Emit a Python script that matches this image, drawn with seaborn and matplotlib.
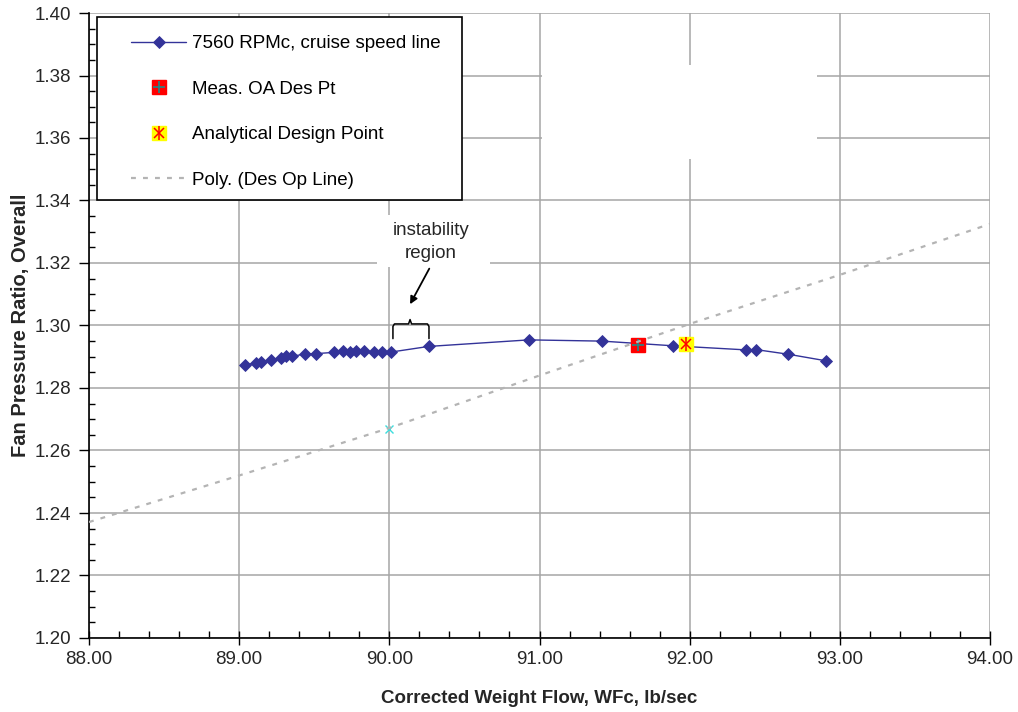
import matplotlib
matplotlib.use("Agg")
import numpy as np
import pandas as pd
import matplotlib.pyplot as plt
import seaborn as sns
from matplotlib.patches import Rectangle
from matplotlib.lines import Line2D
from matplotlib.ticker import MultipleLocator, FormatStrFormatter

# 7560 RPMc cruise speed line
speed_wfc = [89.042, 89.112, 89.145, 89.215, 89.279, 89.315, 89.352, 89.438,
             89.512, 89.631, 89.691, 89.738, 89.781, 89.831, 89.895, 89.951,
             90.011, 90.261, 90.930, 91.418, 91.891, 92.373, 92.440, 92.657,
             92.908]
speed_fpr = [1.2874, 1.2880, 1.2883, 1.2891, 1.2896, 1.2902, 1.2901, 1.2909,
             1.2910, 1.2914, 1.2917, 1.2915, 1.2917, 1.2917, 1.2915, 1.2915,
             1.2915, 1.2933, 1.2954, 1.2950, 1.2935, 1.2922, 1.2923, 1.2908,
             1.2887]

# measured operating-line design point
meas_wfc = [91.658]
meas_fpr = [1.2938]

# analytical design point
design_wfc = [91.973]
design_fpr = [1.2940]

# design operating line point and its polynomial trend
opline_wfc = [90.00]
opline_fpr = [1.2670]
trend_wfc = [88.0, 89.0, 90.0, 91.0, 92.0, 93.0, 94.0]
trend_fpr = [1.2371, 1.2520, 1.2672, 1.2840, 1.3005, 1.3162, 1.3325]

x_ticks = [88.0, 89.0, 90.0, 91.0, 92.0, 93.0, 94.0]
y_ticks = [1.20, 1.22, 1.24, 1.26, 1.28, 1.30, 1.32, 1.34, 1.36, 1.38, 1.40]

NAVY = "#333399"
GRID = "#a6a6a6"

sns.set_theme(style="white")
plt.rcParams["font.family"] = ["Liberation Sans", "DejaVu Sans"]

W, H = 1018, 712
fig = plt.figure(figsize=(W / 100, H / 100), dpi=100)
fig.patch.set_facecolor("white")
ax = fig.add_axes([89 / W, 1 - 638 / H, (990 - 89) / W, (638 - 13) / H])
ax.set_facecolor("white")

speed = pd.DataFrame({"wfc": speed_wfc, "fpr": speed_fpr})
sns.lineplot(data=speed, x="wfc", y="fpr", ax=ax, sort=False, estimator=None,
             color=NAVY, linewidth=1.0, marker="D", markersize=6.3,
             markeredgecolor=NAVY, markeredgewidth=0.6, zorder=3)

# measured design point: red square with teal cross
ax.plot(meas_wfc, meas_fpr, ls="none", marker="s", ms=10.5, mfc="#ff0000",
        mec="#ff0000", zorder=4)
ax.plot(meas_wfc, meas_fpr, ls="none", marker="+", ms=9, mew=1.2,
        color="#1f8a8a", zorder=4.1)

# analytical design point: yellow square with red asterisk
ax.plot(design_wfc, design_fpr, ls="none", marker="s", ms=10.5, mfc="#ffff00",
        mec="#ffff00", zorder=4)
ax.plot(design_wfc, design_fpr, ls="none", marker="x", ms=7.5, mew=1.1,
        color="#ff0000", zorder=4.1)
ax.plot(design_wfc, design_fpr, ls="none", marker="|", ms=9.5, mew=1.1,
        color="#ff0000", zorder=4.1)

# design op line point and trend
ax.plot(opline_wfc, opline_fpr, ls="none", marker="x", ms=5.5, mew=1.0,
        color="#3cdede", zorder=4)
ax.plot(trend_wfc, trend_fpr, color="#b4b4b4", lw=1.6,
        ls=(0, (2.2, 3.2)), zorder=4.5)

# axes, ticks, grid
ax.set_xlim(88, 94)
ax.set_ylim(1.20, 1.40)
ax.set_xticks(x_ticks)
ax.set_yticks(y_ticks)
ax.xaxis.set_minor_locator(MultipleLocator(0.2))
ax.yaxis.set_minor_locator(MultipleLocator(0.005))
ax.xaxis.set_major_formatter(FormatStrFormatter("%.2f"))
ax.yaxis.set_major_formatter(FormatStrFormatter("%.2f"))
ax.grid(True, which="major", color=GRID, linewidth=1.1)
ax.set_axisbelow(True)
for side in ("top", "right"):
    ax.spines[side].set_visible(False)
for side in ("left", "bottom"):
    ax.spines[side].set_color("black")
    ax.spines[side].set_linewidth(1.2)
ax.tick_params(axis="x", which="major", direction="inout", length=10,
               width=1.0, color="black", labelsize=13.5, pad=4, bottom=True)
ax.tick_params(axis="x", which="minor", direction="in", length=5,
               width=1.0, color="black", bottom=True)
ax.tick_params(axis="y", which="major", direction="out", length=7,
               width=1.0, color="black", labelsize=13.5, pad=6, left=True)
ax.tick_params(axis="y", which="minor", direction="in", length=4,
               width=1.0, color="black", left=True)

ax.set_xlabel("Corrected Weight Flow, WFc, lb/sec", fontsize=13.5,
              fontweight="bold", labelpad=16)
ax.set_ylabel("Fan Pressure Ratio, Overall", fontsize=14.5,
              fontweight="bold", labelpad=3)

# blank white box over the upper-right grid
ax.add_patch(Rectangle((541.7 / W, 1 - 159 / H), (817 - 541.7) / W,
                       (159 - 65) / H, transform=fig.transFigure,
                       facecolor="white", edgecolor="none", zorder=1))

# instability region note
ax.add_patch(Rectangle((377 / W, 1 - 267 / H), (490 - 377) / W,
                       (267 - 215) / H, transform=fig.transFigure,
                       facecolor="white", edgecolor="none", zorder=1))
ax.text(90.277, 1.3267, "instability\nregion", ha="center", va="center",
        fontsize=13.5, linespacing=1.45, zorder=5)
ax.annotate("", xy=(90.138, 1.3068), xytext=(90.266, 1.3182),
            arrowprops=dict(arrowstyle="-|>", color="black", lw=1.3,
                            mutation_scale=11, shrinkA=0, shrinkB=0),
            zorder=5)
brace_x = [90.024, 90.024, 90.034, 90.128, 90.138, 90.148, 90.254, 90.264, 90.264]
brace_y = [1.2958, 1.2997, 1.3005, 1.3005, 1.3019, 1.3005, 1.3005, 1.2997, 1.2958]
ax.plot(brace_x, brace_y, color="black", lw=1.1, zorder=5,
        solid_joinstyle="round")

# legend with its own framed box
ax.add_patch(Rectangle((97 / W, 1 - 200 / H), (462 - 97) / W, (200 - 17) / H,
                       transform=fig.transFigure, facecolor="white",
                       edgecolor="black", linewidth=1.2, zorder=6,
                       clip_on=False))
h_speed = Line2D([], [], color=NAVY, lw=1.0, marker="D", ms=6.3,
                 mec=NAVY, mew=0.6)
h_meas = (Line2D([], [], ls="none", marker="s", ms=10.5, mfc="#ff0000", mec="#ff0000"),
          Line2D([], [], ls="none", marker="+", ms=9, mew=1.2, color="#1f8a8a"))
h_design = (Line2D([], [], ls="none", marker="s", ms=10.5, mfc="#ffff00", mec="#ffff00"),
            Line2D([], [], ls="none", marker="x", ms=7.5, mew=1.1, color="#ff0000"),
            Line2D([], [], ls="none", marker="|", ms=9.5, mew=1.1, color="#ff0000"))
h_trend = Line2D([], [], color="#b4b4b4", lw=1.6, ls=(0, (2.2, 3.2)))
leg = ax.legend([h_speed, h_meas, h_design, h_trend],
                ["7560 RPMc, cruise speed line", "Meas. OA Des Pt",
                 "Analytical Design Point", "Poly. (Des Op Line)"],
                loc="upper left", bbox_to_anchor=(131 / W, 1 - 35 / H),
                bbox_transform=fig.transFigure, frameon=False, borderpad=0,
                borderaxespad=0, fontsize=13.5, handlelength=2.95,
                handletextpad=0.28, labelspacing=1.52)
leg.set_zorder(7)
for t in leg.get_texts():
    t.set_color("black")

fig.savefig("out.png", dpi=100, facecolor="white")
